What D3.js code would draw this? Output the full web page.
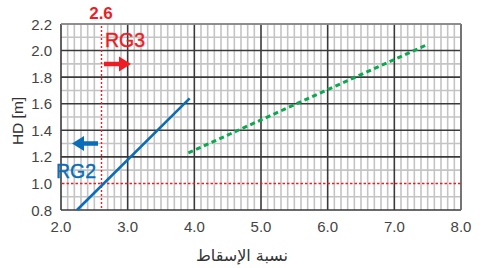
<!DOCTYPE html>
<html><head><meta charset="utf-8">
<script src="https://cdn.jsdelivr.net/npm/d3@7"></script>
<style>body{margin:0;background:#fff}svg{display:block}</style>
</head><body>
<svg id="c" width="482" height="268"></svg>
<script>
const xTicks = [2.0, 3.0, 4.0, 5.0, 6.0, 7.0, 8.0];
const yTicks = [0.8, 1.0, 1.2, 1.4, 1.6, 1.8, 2.0, 2.2];
const rg2 = [[2.24, 0.80], [3.93, 1.64]];
const rg3 = [[3.91, 1.23], [7.47, 2.04]];
const refX = 2.6, refY = 1.0;
const xLabel = "نسبة الإسقاط", yLabel = "HD [m]";

const svg = d3.select("#c");
const x = d3.scaleLinear().domain([2, 8]).range([61, 461]);
const y = d3.scaleLinear().domain([0.8, 2.2]).range([210, 24]);
const font = "'Liberation Sans', Arial, sans-serif";
const near = (a, b) => Math.abs(a - b) < 1e-6;

const minorX = d3.range(20, 81).map(d => d / 10).filter(d => !near(d, Math.round(d)) && !near(d, refX));
const minorY = d3.range(8, 23).map(d => d / 10).filter(d => Math.round(d * 10) % 2 === 1);
const majorY = yTicks.filter(d => !near(d, refY));

const g = svg.append("g");
g.selectAll(".mx").data(minorX).join("line")
  .attr("x1", d => x(d)).attr("x2", d => x(d)).attr("y1", y(2.2)).attr("y2", y(0.8))
  .attr("stroke", "#c4c4c4").attr("stroke-width", 1.6);
g.selectAll(".my").data(minorY).join("line")
  .attr("y1", d => y(d)).attr("y2", d => y(d)).attr("x1", x(2)).attr("x2", x(8))
  .attr("stroke", "#c4c4c4").attr("stroke-width", 1.6);
g.selectAll(".Mx").data(xTicks).join("line")
  .attr("x1", d => x(d)).attr("x2", d => x(d)).attr("y1", y(2.2)).attr("y2", y(0.8))
  .attr("stroke", "#3a3a3a").attr("stroke-width", 1.6);
g.selectAll(".My").data(majorY).join("line")
  .attr("y1", d => y(d)).attr("y2", d => y(d)).attr("x1", x(2)).attr("x2", x(8))
  .attr("stroke", "#3a3a3a").attr("stroke-width", 1.6);
g.append("line").attr("x1", x(2)).attr("x2", x(8)).attr("y1", y(2.2)).attr("y2", y(2.2))
  .attr("stroke", "#9a9a9a").attr("stroke-width", 1.6);
g.append("line").attr("x1", x(8)).attr("x2", x(8)).attr("y1", y(2.2)).attr("y2", y(0.8))
  .attr("stroke", "#7a7a7a").attr("stroke-width", 1.6);

const red = "#ee1c25";
const rx = Math.round(x(refX)) + 0.5, ry = Math.round(y(refY)) + 0.5;
svg.append("line").attr("x1", rx).attr("x2", rx).attr("y1", y(2.2) + 2).attr("y2", y(0.8))
  .attr("stroke", red).attr("stroke-width", 1.4).attr("stroke-dasharray", "2,2");
svg.append("line").attr("x1", x(2) + 1).attr("x2", x(8)).attr("y1", ry).attr("y2", ry)
  .attr("stroke", red).attr("stroke-width", 1.4).attr("stroke-dasharray", "2.5,2");

const line = d3.line().x(d => x(d[0])).y(d => y(d[1]));
svg.append("path").attr("d", line(rg2)).attr("fill", "none").attr("stroke", "#0a6db8").attr("stroke-width", 2.6);
svg.append("path").attr("d", line(rg3)).attr("fill", "none").attr("stroke", "#0aa84f").attr("stroke-width", 3)
  .attr("stroke-dasharray", "5,3.5");

svg.selectAll(".yl").data(yTicks).join("text")
  .attr("x", 52).attr("y", d => y(d) + 5.5).attr("text-anchor", "end")
  .attr("font-family", font).attr("font-size", 15).attr("fill", "#444")
  .text(d => d.toFixed(1));
svg.selectAll(".xl").data(xTicks).join("text")
  .attr("x", d => x(d)).attr("y", 231.5).attr("text-anchor", "middle")
  .attr("font-family", font).attr("font-size", 15).attr("fill", "#444")
  .text(d => d.toFixed(1));

svg.append("text").attr("transform", "translate(23,121) rotate(-90)").attr("text-anchor", "middle")
  .attr("font-family", font).attr("font-size", 15.5).attr("fill", "#333").text(yLabel);
svg.append("text").attr("x", 242).attr("y", 261).attr("text-anchor", "middle")
  .attr("font-family", "'DejaVu Sans', sans-serif").attr("font-size", 16).attr("fill", "#333").text(xLabel);

svg.append("text").attr("x", x(refX)).attr("y", 19).attr("text-anchor", "middle")
  .attr("font-family", font).attr("font-size", 17).attr("font-weight", "bold").attr("fill", red).text(refX.toFixed(1));
svg.append("text").attr("x", 105).attr("y", 47).attr("font-family", font).attr("font-size", 19.5)
  .attr("fill", red).attr("stroke", red).attr("stroke-width", 0.4).text("RG3");
svg.append("text").attr("x", 56).attr("y", 177.5).attr("font-family", font).attr("font-size", 19.5)
  .attr("fill", "#0a6db8").attr("stroke", "#0a6db8").attr("stroke-width", 0.4).text("RG2");

function arrow(x0, x1, yy, col) {
  const dir = Math.sign(x1 - x0);
  const hb = x1 - dir * 12;
  svg.append("line").attr("x1", x0).attr("x2", hb).attr("y1", yy).attr("y2", yy)
    .attr("stroke", col).attr("stroke-width", 4.5);
  svg.append("path").attr("d", `M${x1},${yy} L${hb},${yy - 7.5} L${hb},${yy + 7.5} Z`).attr("fill", col);
}
arrow(104, 131, 64, red);
arrow(98, 72, 143.5, "#0a6db8");
</script>
</body></html>
